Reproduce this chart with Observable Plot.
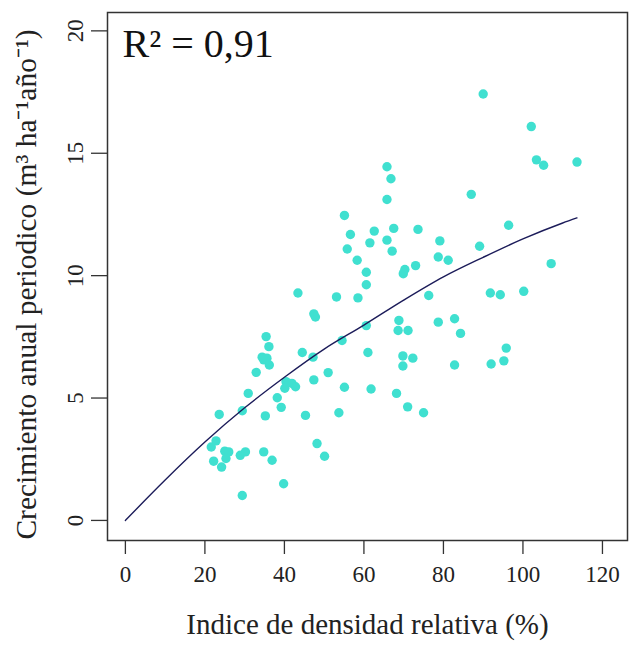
<!DOCTYPE html>
<html>
<head>
<meta charset="utf-8">
<script src="https://cdn.jsdelivr.net/npm/d3@7"></script>
<script src="https://cdn.jsdelivr.net/npm/@observablehq/plot@0.6"></script>
<style>
  html, body { margin: 0; padding: 0; background: #ffffff; }
  #chart { width: 630px; height: 649px; }
</style>
</head>
<body>
<div id="chart"></div>
<script>
// Observed points: relative density index (%) and periodic annual increment
const densidad = [21.6, 22.8, 22.2, 24.2, 23.6, 25.0, 26.0, 25.3, 29.4, 30.2, 28.9, 29.4, 30.9, 32.9, 34.8, 35.2, 35.4, 36.1, 34.4, 35.6,
  34.8, 36.2, 36.9, 38.2, 39.2, 39.8, 40.4, 41.9, 40.1, 42.8, 43.4, 44.5, 45.3, 47.4, 47.8, 47.2, 47.4, 48.2, 50.1, 51.0,
  53.1, 53.7, 54.5, 55.1, 55.1, 55.8, 56.6, 58.3, 58.5, 60.6, 60.6, 60.6, 61.0, 61.8, 61.5, 62.6, 65.8, 66.8, 65.8, 65.8,
  67.5, 67.1, 68.8, 68.6, 71.1, 68.2, 69.8, 72.3, 69.8, 70.3, 69.9, 73.0, 73.6, 71.0, 75.0, 76.3, 78.7, 79.1, 78.7, 81.2,
  82.8, 84.3, 82.8, 87.0, 89.1, 90.0, 91.8, 94.3, 92.0, 95.2, 95.8, 96.4, 100.2, 102.1, 103.4, 105.2, 107.1, 113.6];
const crecimiento = [3.00, 3.25, 2.42, 2.18, 4.33, 2.83, 2.80, 2.53, 4.48, 2.80, 2.66, 1.02, 5.19, 6.05, 2.80, 4.27, 7.51, 7.10, 6.67, 6.63,
  6.56, 6.35, 2.46, 5.01, 4.62, 1.50, 5.67, 5.60, 5.40, 5.46, 9.29, 6.86, 4.29, 8.44, 8.31, 6.67, 5.74, 3.14, 2.62, 6.04,
  9.13, 4.40, 7.35, 5.44, 12.46, 11.09, 11.68, 10.63, 9.09, 10.14, 9.63, 7.96, 6.86, 5.37, 11.34, 11.82, 14.45, 13.96, 13.11, 11.45,
  11.93, 11.00, 8.17, 7.76, 7.76, 5.19, 6.72, 6.63, 6.31, 10.25, 10.08, 10.41, 11.89, 4.64, 4.40, 9.19, 8.10, 11.42, 10.76, 10.63,
  8.24, 7.64, 6.35, 13.32, 11.20, 17.42, 9.29, 9.22, 6.39, 6.52, 7.04, 12.06, 9.36, 16.09, 14.73, 14.51, 10.49, 14.64];

// Fitted curve
const curvaX = [0, 10, 20, 30, 40, 50, 60, 70, 80, 90, 100, 110, 113.6];
const curvaY = [0, 1.65, 3.2, 4.6, 5.85, 7.0, 7.98, 9.0, 9.95, 10.75, 11.5, 12.15, 12.36];

// Axis ticks and texts
const xTicks = [0, 20, 40, 60, 80, 100, 120];
const yTicks = [0, 5, 10, 15, 20];
const xTitle = "Indice de densidad relativa (%)";
const yTitle = "Crecimiento anual periodico (m³ ha⁻¹año⁻¹)";
const r2Text = "R² = 0,91";

const puntos = densidad.map((d, i) => ({x: d, y: crecimiento[i]}));
const curva = curvaX.map((d, i) => ({x: d, y: curvaY[i]}));

const chart = Plot.plot({
  width: 630,
  height: 649,
  marginTop: 12,
  marginBottom: 109,
  marginLeft: 107,
  marginRight: 3,
  x: {domain: [-4.5, 126.3]},
  y: {domain: [-0.82, 20.75]},
  style: {fontFamily: "'Liberation Serif', 'Times New Roman', serif", fontSize: "23px", color: "#222", background: "#ffffff"},
  marks: [
    Plot.dot(puntos, {x: "x", y: "y", r: 4.7, fill: "#40E0D0", stroke: "none"}),
    Plot.line(curva, {x: "x", y: "y", stroke: "#1c1c5a", strokeWidth: 1.4, curve: "monotone-x"}),
    Plot.frame({stroke: "#333", strokeWidth: 1.5}),
    Plot.axisX({ticks: xTicks, tickSize: 14, tickPadding: 11, label: null, stroke: "#333", strokeWidth: 1.3}),
    Plot.axisY({ticks: yTicks, tickSize: 16, text: null, label: null, stroke: "#333", strokeWidth: 1.3}),
    Plot.text(yTicks, {y: (d) => d, text: (d) => String(d), frameAnchor: "left", textAnchor: "middle", lineAnchor: "middle", dx: -32, rotate: -90, fontSize: 23, fill: "#222"}),
    Plot.text([xTitle], {frameAnchor: "bottom", dy: 93, fontSize: 29, fill: "#222"}),
    Plot.text([yTitle], {frameAnchor: "left", textAnchor: "middle", lineAnchor: "middle", dx: -81, dy: 8, rotate: -90, fontSize: 29.5, fill: "#222"}),
    Plot.text([r2Text], {frameAnchor: "top-left", textAnchor: "start", lineAnchor: "middle", dx: 15, dy: 32, fontSize: 40, fill: "#111"})
  ]
});
document.getElementById("chart").appendChild(chart);
</script>
</body>
</html>
